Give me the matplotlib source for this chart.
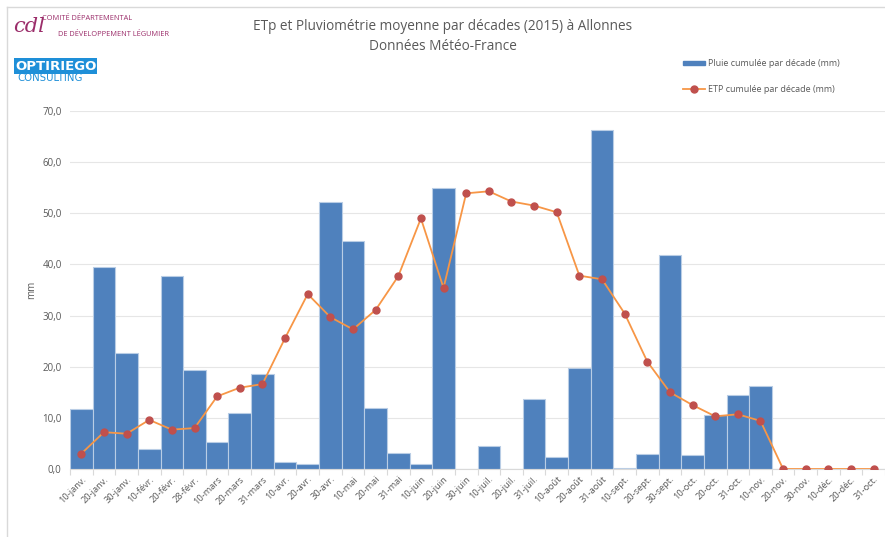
import numpy as np
import matplotlib
matplotlib.use('Agg')
from matplotlib import pyplot as plt
from matplotlib.patches import Rectangle
from matplotlib.lines import Line2D

decades = ['10-janv.', '20-janv.', '30-janv.', '10-févr.', '20-févr.', '28-févr.',
           '10-mars', '20-mars', '31-mars', '10-avr.', '20-avr.', '30-avr.',
           '10-mai', '20-mai', '31-mai', '10-juin', '20-juin', '30-juin',
           '10-juil.', '20-juil.', '31-juil.', '10-août', '20-août', '31-août',
           '10-sept.', '20-sept.', '30-sept.', '10-oct.', '20-oct.', '31-oct.',
           '10-nov.', '20-nov.', '30-nov.', '10-déc.', '20-déc.', '31-oct.']

pluie = [11.7, 39.5, 22.7, 3.9, 37.8, 19.3,
         5.3, 11.0, 18.5, 1.3, 1.0, 52.2,
         44.6, 12.0, 3.1, 1.0, 54.9, 0.0,
         4.4, 0.0, 13.6, 2.4, 19.7, 66.3,
         0.2, 3.0, 41.9, 2.7, 10.5, 14.4,
         16.3, 0.0, 0.0, 0.0, 0.0, 0.0]

etp = [3.0, 7.2, 6.9, 9.6, 7.7, 8.0,
       14.2, 15.9, 16.6, 25.6, 34.2, 29.7,
       27.3, 31.1, 37.7, 49.0, 35.4, 53.9,
       54.3, 52.3, 51.5, 50.2, 37.8, 37.1,
       30.4, 21.0, 15.0, 12.5, 10.3, 10.7,
       9.4, 0.0, 0.0, 0.0, 0.0, 0.0]

plt.rcParams['font.family'] = ['Open Sans', 'DejaVu Sans']
gray = '#595959'
purple = '#9B2D6A'

fig = plt.figure(figsize=(8.85, 5.37), dpi=100)
ax = fig.add_axes([70 / 885, 68 / 537, 815 / 885, 358 / 537])

x = np.arange(len(decades))
ax.bar(x, pluie, width=1.0, color='#4F81BD', edgecolor='#B9CDE5', linewidth=0.8,
       label='Pluie cumulée par décade (mm)', zorder=2)
ax.plot(x, etp, color='#F79646', linewidth=1.3, marker='o', markersize=5,
        markerfacecolor='#C0504D', markeredgecolor='#C0504D',
        label='ETP cumulée par décade (mm)', zorder=3)

ax.set_xlim(-0.5, len(decades) - 0.5)
ax.set_ylim(0, 70)
ax.set_yticks(np.arange(0, 71, 10))
ax.set_yticklabels([f'{v:.1f}'.replace('.', ',') for v in np.arange(0, 71, 10)],
                   fontsize=7, color=gray)
ax.set_xticks(x)
ax.set_xticklabels(decades, rotation=45, ha='right', rotation_mode='anchor',
                   fontsize=6.7, color=gray)
ax.tick_params(axis='x', length=0, pad=4)
ax.tick_params(axis='y', length=0, pad=6)
ax.set_xticks(np.arange(-0.5, len(decades), 1), minor=True)
ax.tick_params(axis='x', which='minor', length=4, color='#D9D9D9', width=0.8)

ax.grid(axis='y', color='#E6E6E6', linewidth=0.8, zorder=0)
ax.set_axisbelow(True)
for s in ['top', 'right', 'left']:
    ax.spines[s].set_visible(False)
ax.spines['bottom'].set_color('#D9D9D9')
ax.set_ylabel('mm', fontsize=7, color=gray, labelpad=4)

# titre
fig.text(0.5, 1 - 27 / 537, 'ETp et Pluviométrie moyenne par décades (2015) à Allonnes',
         ha='center', va='center', fontsize=9.8, color=gray)
fig.text(0.5, 1 - 46 / 537, 'Données Météo-France',
         ha='center', va='center', fontsize=9.8, color=gray)

# légende
fig.patches.append(Rectangle((683 / 885, 1 - 65 / 537), 22 / 885, 4 / 537,
                             transform=fig.transFigure, color='#4F81BD'))
fig.text(708 / 885, 1 - 63 / 537, 'Pluie cumulée par décade (mm)',
         va='center', fontsize=6.5, color=gray)
fig.lines.append(Line2D([683 / 885, 705 / 885], [1 - 89 / 537, 1 - 89 / 537],
                        transform=fig.transFigure, color='#F79646', linewidth=1.3))
fig.lines.append(Line2D([694 / 885], [1 - 89 / 537], transform=fig.transFigure,
                        marker='o', markersize=5, color='#C0504D', linestyle='none'))
fig.text(708 / 885, 1 - 89 / 537, 'ETP cumulée par décade (mm)',
         va='center', fontsize=6.5, color=gray)

# logos (approximation en texte)
fig.text(13 / 885, 1 - 26 / 537, 'cdl', fontsize=15, color=purple,
         fontstyle='italic', va='center', fontfamily='DejaVu Serif')
fig.text(42 / 885, 1 - 19 / 537, 'COMITÉ DÉPARTEMENTAL', fontsize=5.3, color=purple,
         va='center')
fig.text(58 / 885, 1 - 34 / 537, 'DE DÉVELOPPEMENT LÉGUMIER', fontsize=5.3,
         color=purple, va='center')
fig.text(15 / 885, 1 - 66 / 537, 'OPTIRIEGO', fontsize=9.5, color='white',
         fontweight='bold', va='center', fontfamily='DejaVu Sans',
         bbox=dict(boxstyle='square,pad=0.08', fc='#1E8FD8', ec='none'))
fig.text(17 / 885, 1 - 78 / 537, 'CONSULTING', fontsize=7.3, color='#1E8FD8',
         va='center', fontfamily='DejaVu Sans')

# cadre
fig.lines.append(Line2D([7 / 885, 7 / 885], [0, 1 - 7 / 537], transform=fig.transFigure,
                        color='#D9D9D9', linewidth=1))
fig.lines.append(Line2D([7 / 885, 1], [1 - 7 / 537, 1 - 7 / 537], transform=fig.transFigure,
                        color='#D9D9D9', linewidth=1))

plt.savefig('out.png', dpi=100)
plt.close()
